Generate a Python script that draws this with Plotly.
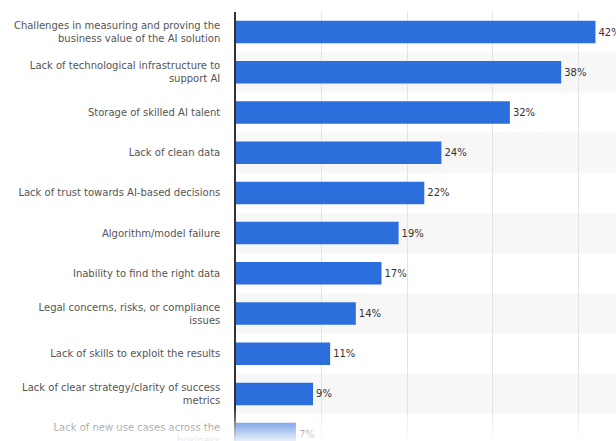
import plotly.graph_objects as go

categories = [
    "Challenges in measuring and proving the<br>business value of the AI solution",
    "Lack of technological infrastructure to<br>support AI",
    "Storage of skilled AI talent",
    "Lack of clean data",
    "Lack of trust towards AI-based decisions",
    "Algorithm/model failure",
    "Inability to find the right data",
    "Legal concerns, risks, or compliance<br>issues",
    "Lack of skills to exploit the results",
    "Lack of clear strategy/clarity of success<br>metrics",
    "Lack of new use cases across the<br>business",
]
values = [42, 38, 32, 24, 22, 19, 17, 14, 11, 9, 7]
x_ticks = [0, 10, 20, 30, 40]

BAR = "#2c6fdc"
W, H = 616, 441
ML, MT = 236, 12
ROW_PX = 40.2

fig = go.Figure()
fig.add_trace(go.Bar(
    x=values, y=categories, orientation="h",
    marker=dict(color=BAR, line=dict(width=0)),
    width=0.56,
    text=[f"{v}%" for v in values],
    textposition="outside",
    textfont=dict(family="DejaVu Sans", size=10, color="#333333"),
    constraintext="none",
    cliponaxis=False,
    hoverinfo="skip",
))

shapes = []
# alternating row bands
for i in range(len(categories)):
    if i % 2 == 1:
        shapes.append(dict(type="rect", xref="paper", yref="y",
                           x0=0, x1=1, y0=i - 0.5, y1=i + 0.5,
                           fillcolor="#f7f7f7", line=dict(width=0), layer="below"))
# bottom fade
plot_h = H - MT
top_px = 410
n = H - top_px
for k in range(n):
    y_top = top_px + k
    y_bot = top_px + k + 1
    frac = (k + 0.5) / n
    shapes.append(dict(type="rect", xref="paper", yref="paper",
                       x0=-1, x1=1.2,
                       y0=(H - y_bot) / plot_h, y1=(H - y_top) / plot_h,
                       fillcolor="white", opacity=min(0.88, 0.05 + 0.85 * frac),
                       line=dict(width=0), layer="above"))

n_rows = plot_h / ROW_PX
fig.update_layout(
    width=W, height=H,
    margin=dict(l=ML, r=0, t=MT, b=0, autoexpand=False),
    paper_bgcolor="white", plot_bgcolor="white",
    showlegend=False,
    shapes=shapes,
    xaxis=dict(range=[0, 44.4], tickvals=x_ticks, showticklabels=False,
               showgrid=True, gridcolor="#e3e3e3", gridwidth=1,
               zeroline=False, showline=False, fixedrange=True, automargin=False),
    yaxis=dict(type="category", categoryorder="array", categoryarray=categories,
               range=[-0.5 + n_rows, -0.5],
               showline=True, linecolor="#333333", linewidth=1.5,
               ticks="", ticklabelstandoff=12, automargin=False,
               tickfont=dict(family="DejaVu Sans", size=10, color="#555555"),
               showgrid=False, fixedrange=True),
)

fig.write_html("out.html")
